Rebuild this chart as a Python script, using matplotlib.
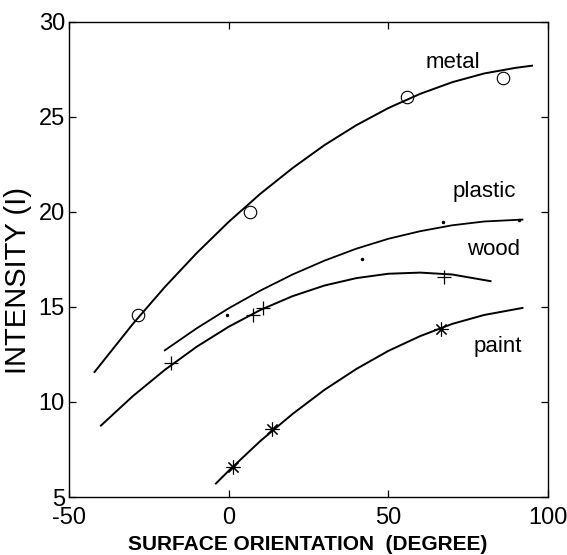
import matplotlib
matplotlib.use('Agg')
import matplotlib.pyplot as plt

# curves (degree, intensity)
metal_x = [-42, -30, -20, -10, 0, 10, 20, 30, 40, 50, 60, 70, 80, 90, 95]
metal_y = [11.58, 14.11, 16.05, 17.84, 19.48, 20.97, 22.31, 23.52, 24.57, 25.47, 26.22, 26.83, 27.29, 27.59, 27.7]
plastic_x = [-20, -10, 0, 10, 20, 30, 40, 50, 60, 70, 80, 92]
plastic_y = [12.72, 13.88, 14.93, 15.87, 16.71, 17.44, 18.07, 18.59, 18.99, 19.30, 19.50, 19.60]
wood_x = [-40, -30, -20, -10, 0, 10, 20, 30, 40, 50, 60, 70, 82]
wood_y = [8.76, 10.31, 11.69, 12.91, 13.96, 14.85, 15.57, 16.13, 16.52, 16.75, 16.81, 16.71, 16.36]
paint_x = [-4, 0, 10, 20, 30, 40, 50, 60, 70, 80, 92]
paint_y = [5.71, 6.38, 7.96, 9.37, 10.64, 11.74, 12.69, 13.47, 14.11, 14.58, 14.95]

# measured points
metal_px = [-28.3, 6.7, 56, 86]
metal_py = [14.58, 20.0, 26.05, 27.05]
plastic_px = [-0.6, 41.9, 67.1, 91]
plastic_py = [14.58, 17.54, 19.49, 19.6]
wood_px = [-18.0, 7.6, 10.9, 67.3]
wood_py = [12.07, 14.58, 14.93, 16.6]
paint_px = [1.3, 13.5, 66.5]
paint_py = [6.56, 8.56, 13.83]

labels = ['metal', 'plastic', 'wood', 'paint']
label_x = [61.6, 70.0, 74.7, 76.7]
label_y = [27.58, 20.8, 17.74, 12.65]

plt.rcParams['font.family'] = ['Liberation Sans', 'DejaVu Sans']
plt.rcParams['axes.unicode_minus'] = False

fig = plt.figure(figsize=(5.67, 5.55), dpi=100)
ax = fig.add_axes([0.1217, 0.1045, 0.8448, 0.8559])

ax.plot(metal_x, metal_y, color='black', lw=1.4)
ax.plot(plastic_x, plastic_y, color='black', lw=1.3)
ax.plot(wood_x, wood_y, color='black', lw=1.4)
ax.plot(paint_x, paint_y, color='black', lw=1.4)

ax.plot(metal_px, metal_py, 'o', ms=9, mfc='none', mec='black', mew=0.8)
ax.plot(plastic_px, plastic_py, '.', ms=3, color='black')
ax.plot(wood_px, wood_py, '+', ms=10, color='black', mew=0.9)
ax.plot(paint_px, paint_py, ls='none', marker=(8, 2, 0), ms=10, color='black', mew=0.8)

for t, x, y in zip(labels, label_x, label_y):
    ax.text(x, y, t, fontsize=16, ha='left', va='baseline')

ax.set_xlim(-50, 100)
ax.set_ylim(5, 30)
ax.set_xticks([-50, 0, 50, 100])
ax.set_yticks([5, 10, 15, 20, 25, 30])
ax.tick_params(direction='in', length=5, width=0.9, top=True, right=True, labelsize=17)
ax.tick_params(axis='x', pad=7)
ax.tick_params(axis='y', pad=3)
for s in ax.spines.values():
    s.set_linewidth(1.0)

ax.set_xlabel('SURFACE ORIENTATION  (DEGREE)', fontsize=15, fontweight='bold')
ax.set_ylabel('INTENSITY (I)', fontsize=21)
ax.xaxis.set_label_coords(0.499, -0.080)
ax.yaxis.set_label_coords(-0.077, 0.455)

fig.savefig('out.png', dpi=100)
